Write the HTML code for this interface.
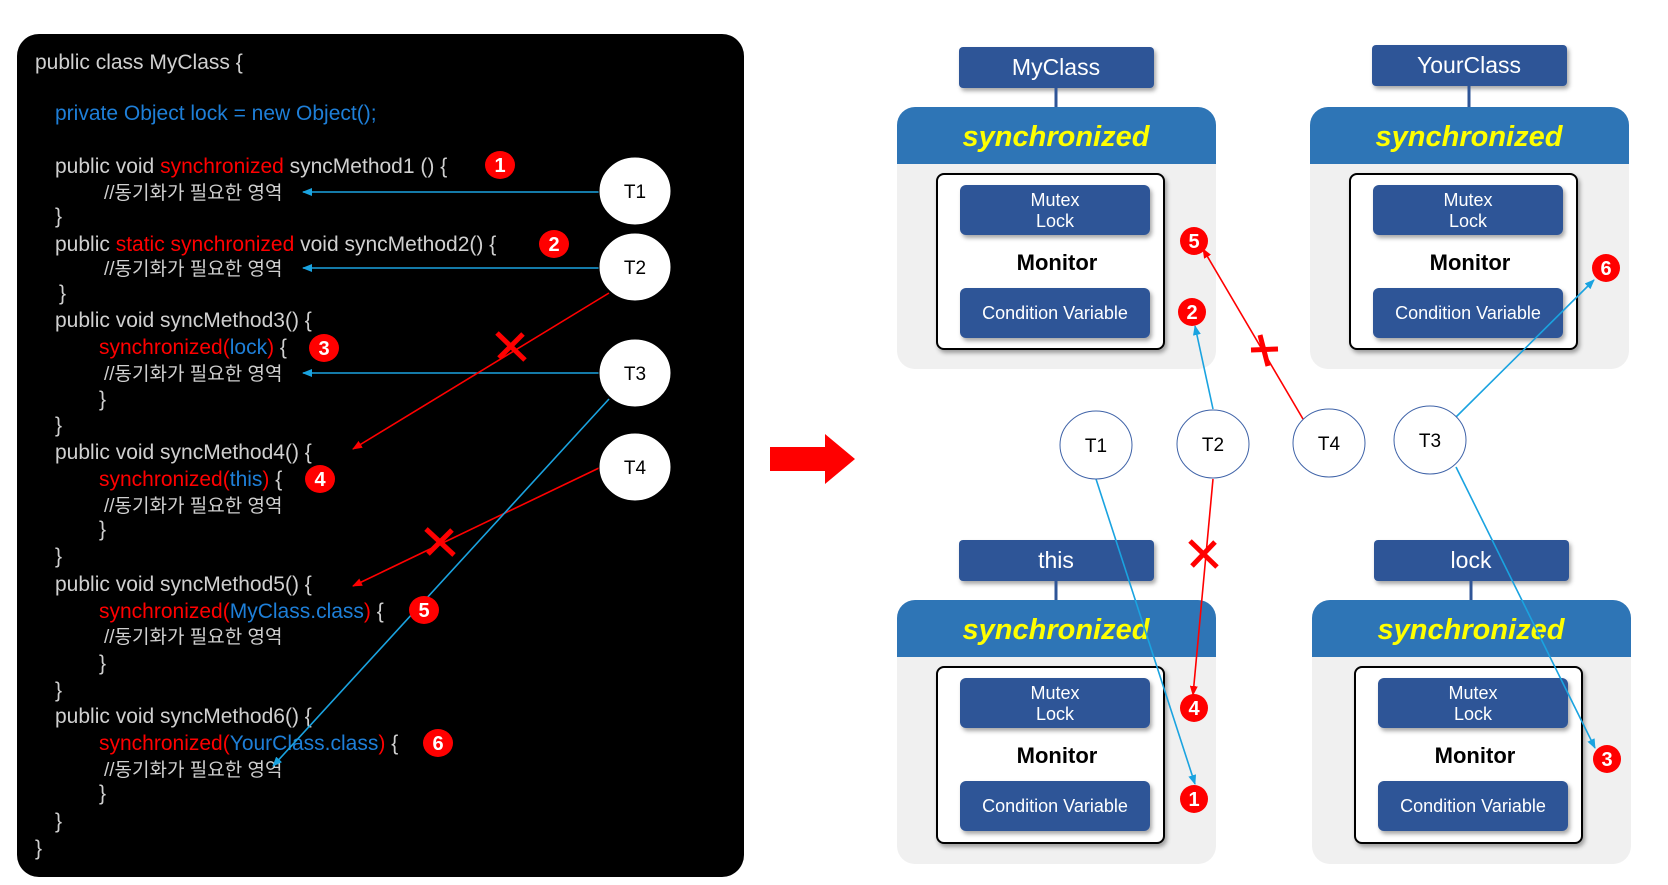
<!DOCTYPE html>
<html><head><meta charset="utf-8"><style>
html,body{margin:0;padding:0;background:#fff;width:1668px;height:885px;overflow:hidden}
svg text{font-family:"Liberation Sans","Noto Sans CJK KR",sans-serif}
</style></head><body>
<svg width="1668" height="885" viewBox="0 0 1668 885" xmlns="http://www.w3.org/2000/svg">
<defs>
<marker id="ab" markerWidth="10" markerHeight="8" refX="9" refY="4" orient="auto" markerUnits="userSpaceOnUse"><path d="M0,0 L10,4 L0,8 z" fill="#1aa3e0"/></marker>
<marker id="ar" markerWidth="10" markerHeight="8" refX="9" refY="4" orient="auto" markerUnits="userSpaceOnUse"><path d="M0,0 L10,4 L0,8 z" fill="#f00"/></marker>
<filter id="sh" x="-10%" y="-10%" width="130%" height="140%"><feDropShadow dx="2" dy="3" stdDeviation="2" flood-color="#000" flood-opacity="0.35"/></filter>
</defs>
<!-- code panel -->
<rect x="17" y="34" width="727" height="843" rx="22" fill="#000"/>
<g font-size="21" fill="#d0d0d0">
<text x="35" y="69">public class MyClass {</text>
<text x="55" y="120" fill="#1e7fd8">private Object lock = new Object();</text>
<text x="55" y="173">public void <tspan fill="#f00">synchronized</tspan> syncMethod1 () {</text>
<text x="104" y="199" font-size="19">//동기화가 필요한 영역</text>
<text x="55" y="223">}</text>
<text x="55" y="251">public <tspan fill="#f00">static synchronized</tspan> void syncMethod2() {</text>
<text x="104" y="275" font-size="19">//동기화가 필요한 영역</text>
<text x="59" y="300">}</text>
<text x="55" y="327">public void syncMethod3() {</text>
<text x="99" y="354"><tspan fill="#f00">synchronized(</tspan><tspan fill="#1e7fd8">lock</tspan><tspan fill="#f00">)</tspan> {</text>
<text x="104" y="380" font-size="19">//동기화가 필요한 영역</text>
<text x="99" y="406">}</text>
<text x="55" y="432">}</text>
<text x="55" y="459">public void syncMethod4() {</text>
<text x="99" y="486"><tspan fill="#f00">synchronized(</tspan><tspan fill="#1e7fd8">this</tspan><tspan fill="#f00">)</tspan> {</text>
<text x="104" y="512" font-size="19">//동기화가 필요한 영역</text>
<text x="99" y="536">}</text>
<text x="55" y="563">}</text>
<text x="55" y="591">public void syncMethod5() {</text>
<text x="99" y="618"><tspan fill="#f00">synchronized(</tspan><tspan fill="#1e7fd8">MyClass.class</tspan><tspan fill="#f00">)</tspan> {</text>
<text x="104" y="643" font-size="19">//동기화가 필요한 영역</text>
<text x="99" y="670">}</text>
<text x="55" y="697">}</text>
<text x="55" y="723">public void syncMethod6() {</text>
<text x="99" y="750"><tspan fill="#f00">synchronized(</tspan><tspan fill="#1e7fd8">YourClass.class</tspan><tspan fill="#f00">)</tspan> {</text>
<text x="104" y="776" font-size="19">//동기화가 필요한 영역</text>
<text x="99" y="800">}</text>
<text x="55" y="828">}</text>
<text x="35" y="855">}</text>
</g>
<!-- left arrows -->
<g stroke-width="1.6" fill="none">
<line x1="599" y1="192" x2="303" y2="192" stroke="#1aa3e0" marker-end="url(#ab)"/>
<line x1="599" y1="268" x2="303" y2="268" stroke="#1aa3e0" marker-end="url(#ab)"/>
<line x1="599" y1="373" x2="303" y2="373" stroke="#1aa3e0" marker-end="url(#ab)"/>
<line x1="609" y1="293" x2="353" y2="449" stroke="#f00" marker-end="url(#ar)"/>
<line x1="599" y1="468" x2="353" y2="586" stroke="#f00" marker-end="url(#ar)"/>
<line x1="609" y1="399" x2="273" y2="766" stroke="#1aa3e0" marker-end="url(#ab)"/>
</g>
<g stroke="#f00" stroke-width="5">
<line x1="497" y1="333" x2="525" y2="360"/><line x1="499" y1="358" x2="523" y2="334"/>
<line x1="426" y1="529" x2="454" y2="555"/><line x1="428" y1="554" x2="452" y2="530"/>
</g>
<g fill="#fff" stroke="#000" stroke-width="1"><ellipse cx="635" cy="191" rx="36" ry="34"/><ellipse cx="635" cy="267" rx="36" ry="34"/><ellipse cx="635" cy="373" rx="36" ry="34"/><ellipse cx="635" cy="467" rx="36" ry="34"/></g>
<g font-size="19" text-anchor="middle" fill="#000"><text x="635" y="198">T1</text><text x="635" y="274">T2</text><text x="635" y="380">T3</text><text x="635" y="474">T4</text></g>
<!-- left badges -->
<g fill="#f00">
<ellipse cx="500" cy="165" rx="15" ry="14"/><ellipse cx="554" cy="244" rx="15" ry="14"/><ellipse cx="324" cy="348" rx="15" ry="14"/><ellipse cx="320" cy="479" rx="15" ry="14"/><ellipse cx="424" cy="610" rx="15" ry="14"/><ellipse cx="438" cy="743" rx="15" ry="14"/>
</g>
<g font-size="20" font-weight="bold" fill="#fff" text-anchor="middle">
<text x="500" y="172">1</text><text x="554" y="251">2</text><text x="324" y="355">3</text><text x="320" y="486">4</text><text x="424" y="617">5</text><text x="438" y="750">6</text>
</g>
<!-- big arrow -->
<path d="M770,447 L825,447 L825,434 L855,459 L825,484 L825,471 L770,471 z" fill="#f00"/>
<g transform="translate(-5,0)">
<g font-size="18">
<!-- MyClass -->
<g>
<rect x="964" y="47" width="195" height="41" rx="4" fill="#2f5597" filter="url(#sh)"/>
<text x="1061" y="75" fill="#fff" font-size="23" text-anchor="middle">MyClass</text>
<line x1="1061" y1="88" x2="1061" y2="107" stroke="#2f5597" stroke-width="3"/>
<rect x="902" y="107" width="319" height="262" rx="18" fill="#f0f0f0"/>
<path d="M902,164 V125 a18,18 0 0 1 18,-18 H1203 a18,18 0 0 1 18,18 V164 z" fill="#2e75b6"/>
<text x="1061" y="146" fill="#ffff00" font-size="29" font-style="italic" font-weight="bold" text-anchor="middle">synchronized</text>
<rect x="942" y="174" width="227" height="175" rx="7" fill="#fff" stroke="#000" stroke-width="2" filter="url(#sh)"/>
<rect x="965" y="185" width="190" height="50" rx="6" fill="#2f5597" filter="url(#sh)"/>
<text x="1060" y="206" fill="#fff" text-anchor="middle">Mutex</text><text x="1060" y="227" fill="#fff" text-anchor="middle">Lock</text>
<text x="1062" y="270" font-size="22" font-weight="bold" text-anchor="middle">Monitor</text>
<rect x="965" y="288" width="190" height="50" rx="6" fill="#2f5597" filter="url(#sh)"/>
<text x="1060" y="319" fill="#fff" text-anchor="middle">Condition Variable</text>
</g>
<!-- YourClass -->
<g transform="translate(413,-2)">
<rect x="964" y="47" width="195" height="41" rx="4" fill="#2f5597" filter="url(#sh)"/>
<text x="1061" y="75" fill="#fff" font-size="23" text-anchor="middle">YourClass</text>
<line x1="1061" y1="88" x2="1061" y2="109" stroke="#2f5597" stroke-width="3"/>
</g>
<g transform="translate(413,0)">
<rect x="902" y="107" width="319" height="262" rx="18" fill="#f0f0f0"/>
<path d="M902,164 V125 a18,18 0 0 1 18,-18 H1203 a18,18 0 0 1 18,18 V164 z" fill="#2e75b6"/>
<text x="1061" y="146" fill="#ffff00" font-size="29" font-style="italic" font-weight="bold" text-anchor="middle">synchronized</text>
<rect x="942" y="174" width="227" height="175" rx="7" fill="#fff" stroke="#000" stroke-width="2" filter="url(#sh)"/>
<rect x="965" y="185" width="190" height="50" rx="6" fill="#2f5597" filter="url(#sh)"/>
<text x="1060" y="206" fill="#fff" text-anchor="middle">Mutex</text><text x="1060" y="227" fill="#fff" text-anchor="middle">Lock</text>
<text x="1062" y="270" font-size="22" font-weight="bold" text-anchor="middle">Monitor</text>
<rect x="965" y="288" width="190" height="50" rx="6" fill="#2f5597" filter="url(#sh)"/>
<text x="1060" y="319" fill="#fff" text-anchor="middle">Condition Variable</text>
</g>
<!-- this -->
<g transform="translate(0,493)">
<rect x="964" y="47" width="195" height="41" rx="4" fill="#2f5597" filter="url(#sh)"/>
<text x="1061" y="75" fill="#fff" font-size="23" text-anchor="middle">this</text>
<line x1="1061" y1="88" x2="1061" y2="107" stroke="#2f5597" stroke-width="3"/>
<rect x="902" y="107" width="319" height="264" rx="18" fill="#f0f0f0"/>
<path d="M902,164 V125 a18,18 0 0 1 18,-18 H1203 a18,18 0 0 1 18,18 V164 z" fill="#2e75b6"/>
<text x="1061" y="146" fill="#ffff00" font-size="29" font-style="italic" font-weight="bold" text-anchor="middle">synchronized</text>
<rect x="942" y="174" width="227" height="176" rx="7" fill="#fff" stroke="#000" stroke-width="2" filter="url(#sh)"/>
<rect x="965" y="185" width="190" height="50" rx="6" fill="#2f5597" filter="url(#sh)"/>
<text x="1060" y="206" fill="#fff" text-anchor="middle">Mutex</text><text x="1060" y="227" fill="#fff" text-anchor="middle">Lock</text>
<text x="1062" y="270" font-size="22" font-weight="bold" text-anchor="middle">Monitor</text>
<rect x="965" y="288" width="190" height="50" rx="6" fill="#2f5597" filter="url(#sh)"/>
<text x="1060" y="319" fill="#fff" text-anchor="middle">Condition Variable</text>
</g>
<!-- lock -->
<g transform="translate(415,493)">
<rect x="964" y="47" width="195" height="41" rx="4" fill="#2f5597" filter="url(#sh)"/>
<text x="1061" y="75" fill="#fff" font-size="23" text-anchor="middle">lock</text>
<line x1="1061" y1="88" x2="1061" y2="107" stroke="#2f5597" stroke-width="3"/>
<rect x="902" y="107" width="319" height="264" rx="18" fill="#f0f0f0"/>
<path d="M902,164 V125 a18,18 0 0 1 18,-18 H1203 a18,18 0 0 1 18,18 V164 z" fill="#2e75b6"/>
<text x="1061" y="146" fill="#ffff00" font-size="29" font-style="italic" font-weight="bold" text-anchor="middle">synchronized</text>
<rect x="945" y="174" width="227" height="176" rx="7" fill="#fff" stroke="#000" stroke-width="2" filter="url(#sh)"/>
<rect x="968" y="185" width="190" height="50" rx="6" fill="#2f5597" filter="url(#sh)"/>
<text x="1063" y="206" fill="#fff" text-anchor="middle">Mutex</text><text x="1063" y="227" fill="#fff" text-anchor="middle">Lock</text>
<text x="1065" y="270" font-size="22" font-weight="bold" text-anchor="middle">Monitor</text>
<rect x="968" y="288" width="190" height="50" rx="6" fill="#2f5597" filter="url(#sh)"/>
<text x="1063" y="319" fill="#fff" text-anchor="middle">Condition Variable</text>
</g>
</g>
<!-- right arrows -->
<g stroke-width="1.6" fill="none">
<line x1="1308" y1="419" x2="1208" y2="249" stroke="#f00" marker-end="url(#ar)"/>
<line x1="1218" y1="409" x2="1200" y2="326" stroke="#1aa3e0" marker-end="url(#ab)"/>
<line x1="1218" y1="479" x2="1198" y2="695" stroke="#f00" marker-end="url(#ar)"/>
<line x1="1101" y1="479" x2="1200" y2="784" stroke="#1aa3e0" marker-end="url(#ab)"/>
<line x1="1461" y1="417" x2="1599" y2="280" stroke="#1aa3e0" marker-end="url(#ab)"/>
<line x1="1461" y1="467" x2="1600" y2="748" stroke="#1aa3e0" marker-end="url(#ab)"/>
</g>
<g stroke="#f00" stroke-width="5">
<line x1="1256" y1="350" x2="1283" y2="349"/><line x1="1265" y1="335" x2="1273" y2="366"/>
<line x1="1195" y1="541" x2="1222" y2="567"/><line x1="1197" y1="566" x2="1220" y2="542"/>
</g>
<g fill="#fff" stroke="#3f63a8" stroke-width="1">
<ellipse cx="1101" cy="445" rx="36" ry="34"/><ellipse cx="1218" cy="444" rx="36" ry="34"/><ellipse cx="1334" cy="443" rx="36" ry="34"/><ellipse cx="1435" cy="440" rx="36" ry="34"/>
</g>
<g font-size="19" text-anchor="middle" fill="#000"><text x="1101" y="452">T1</text><text x="1218" y="451">T2</text><text x="1334" y="450">T4</text><text x="1435" y="447">T3</text></g>
<!-- right badges -->
<g fill="#f00">
<ellipse cx="1199" cy="241" rx="14" ry="14"/><ellipse cx="1197" cy="312" rx="14" ry="14"/><ellipse cx="1611" cy="268" rx="14" ry="14"/><ellipse cx="1199" cy="708" rx="14" ry="14"/><ellipse cx="1199" cy="799" rx="14" ry="14"/><ellipse cx="1612" cy="759" rx="14" ry="14"/>
</g>
<g font-size="20" font-weight="bold" fill="#fff" text-anchor="middle">
<text x="1199" y="248">5</text><text x="1197" y="319">2</text><text x="1611" y="275">6</text><text x="1199" y="715">4</text><text x="1199" y="806">1</text><text x="1612" y="766">3</text>
</g>
</g>
</svg>
</body></html>
